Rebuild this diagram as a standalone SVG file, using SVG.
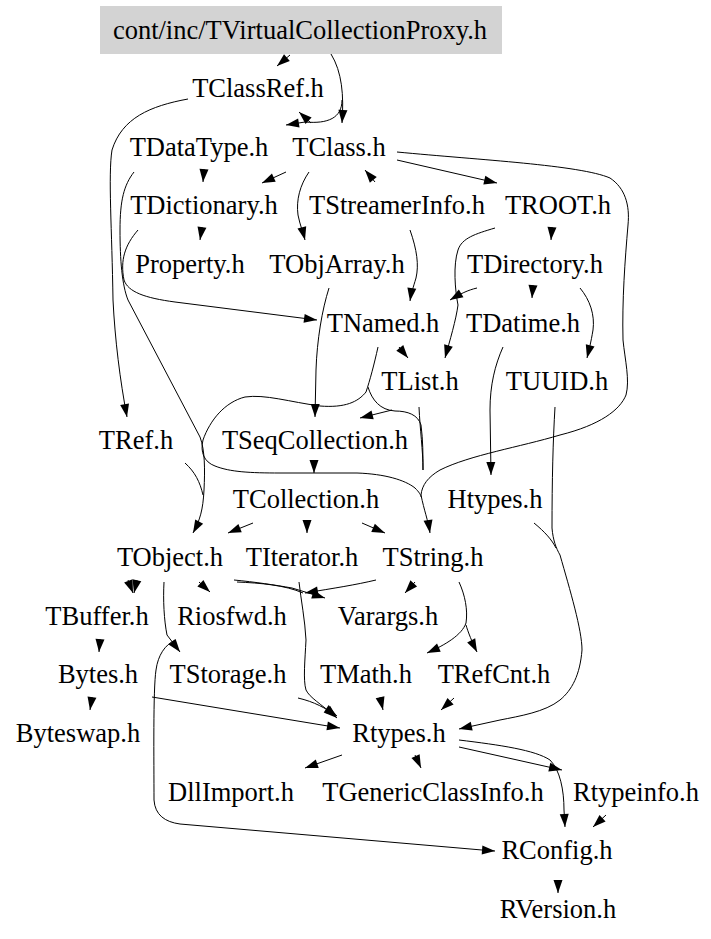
<svg xmlns="http://www.w3.org/2000/svg" width="711" height="939" viewBox="0 0 711 939">
<style>
text{font-family:"Liberation Serif","Times New Roman",serif;font-size:26.5px;fill:#000;text-anchor:middle}
.e{fill:none;stroke:#000;stroke-width:1;marker-end:url(#ah)}
.m{fill:none;stroke:#000;stroke-width:1}
</style>
<defs>
<marker id="ah" markerUnits="userSpaceOnUse" markerWidth="14" markerHeight="10" refX="13" refY="4.5" orient="auto" overflow="visible">
<path d="M0,0 L13,4.5 L0,9 z" fill="#000"/>
</marker>
</defs>
<rect width="711" height="939" fill="#fff"/>
<g id="edges">
<path class="e" d="M290,55 L277,66"/>
<path class="e" d="M331,54 C342,72 344,95 342,123"/>
<path class="e" d="M342,100 C342,118 328,124 305,122 L286,125"/>
<path class="e" d="M311,123 L299,112"/>
<path class="e" d="M188,99 C150,106 122,118 112,150 C108,175 112,230 113,300 C115,340 120,380 127,417"/>
<path class="e" d="M134,172 C124,185 120,200 120,230 C120,260 122,285 128,300 L200,437 C205,450 205,470 204,490 C203,510 200,520 193,533"/>
<path class="m" d="M185,463 C195,472 200,482 203,495"/>
<path class="e" d="M138,230 C125,245 120,260 124,280 C128,292 145,298 175,302 L317,320"/>
<path class="e" d="M202,227 L200,240"/>
<path class="e" d="M204,169 L203,182"/>
<path class="e" d="M286,172 L262,183"/>
<path class="e" d="M309,172 C300,185 296,200 298,215 C300,225 303,232 305,240"/>
<path class="e" d="M375,182 L365,170"/>
<path class="e" d="M397,160 L497,183"/>
<path class="e" d="M397,152 C480,160 580,165 610,178 C625,188 630,205 628,225 C625,260 622,300 623,340 C625,360 630,380 626,395 C620,410 600,425 560,435 C520,447 470,455 440,470 C428,477 422,485 421,495 C424,510 428,520 430,533"/>
<path class="m" d="M378,347 C374,365 370,380 366,392 C358,402 345,408 320,406 C290,402 265,394 245,397 C225,402 210,420 203,440 C200,452 204,462 215,466 C230,472 250,473 280,473 L357,473 C385,474 405,480 415,488 C419,492 421,495 421,497"/>
<path class="m" d="M368,387 C372,400 380,410 395,411 C408,411 418,415 421,425 C423,440 423,455 423,470"/>
<path class="e" d="M392,410 L360,418"/>
<path class="m" d="M419,407 C420,430 423,450 423,470"/>
<path class="e" d="M410,230 C417,250 419,265 416,278 C413,288 411,294 410,301"/>
<path class="e" d="M552,227 L551,240"/>
<path class="e" d="M495,228 C475,234 462,238 458,250 C453,265 455,290 458,305 C456,320 450,340 445,358"/>
<path class="e" d="M477,288 C468,290 460,294 450,300"/>
<path class="e" d="M533,285 L532,298"/>
<path class="e" d="M580,288 C590,300 595,315 593,330 C591,342 589,350 587,358"/>
<path class="e" d="M399,347 L408,358"/>
<path class="e" d="M503,347 C495,365 490,385 490,410 L491,475"/>
<path class="e" d="M555,407 C553,440 552,480 552,528 C553,540 556,548 560,555 C570,590 582,630 582,650 C580,675 572,690 560,700 C545,712 520,716 500,720 L459,729"/>
<path class="m" d="M534,523 C545,532 552,540 556,548"/>
<path class="e" d="M329,288 C322,310 317,340 316,370 L315,417"/>
<path class="e" d="M314,460 L314,473"/>
<path class="e" d="M253,523 L228,533"/>
<path class="e" d="M307,520 L307,533"/>
<path class="e" d="M362,523 L385,533"/>
<path class="e" d="M128,580 L133,593"/>
<path class="e" d="M137,580 L134,593"/>
<path class="e" d="M199,582 L210,592"/>
<path class="e" d="M164,582 C163,600 164,620 167,635 L180,652"/>
<path class="e" d="M175,640 C165,645 158,655 156,670 C153,690 154,760 154,800 C155,815 165,822 180,824 L482,850 L495,851"/>
<path class="e" d="M234,580 C255,582 275,585 292,588 L325,598"/>
<path class="m" d="M237,582 C260,583 285,585 303,593"/>
<path class="e" d="M376,580 C355,585 335,588 305,593"/>
<path class="e" d="M415,582 L405,593"/>
<path class="e" d="M299,582 C301,600 305,620 306,640 C305,660 303,680 306,690 C310,698 320,703 337,718"/>
<path class="e" d="M298,698 C315,702 325,708 337,716"/>
<path class="e" d="M459,582 C465,595 468,610 466,623 C462,635 445,645 427,653"/>
<path class="e" d="M466,625 C468,632 472,642 477,652"/>
<path class="e" d="M152,697 L340,728"/>
<path class="e" d="M100,639 L99,652"/>
<path class="e" d="M92,697 L90,710"/>
<path class="e" d="M380,697 L383,710"/>
<path class="e" d="M454,698 L441,710"/>
<path class="e" d="M342,755 L305,768"/>
<path class="e" d="M415,755 L421,768"/>
<path class="e" d="M459,740 C500,745 535,750 550,760 C560,770 564,790 564,810 L565,827"/>
<path class="e" d="M459,747 L562,770"/>
<path class="e" d="M606,815 L593,827"/>
<path class="e" d="M558,880 L558,893"/>
</g>
<g id="n_root"><rect x="100" y="6" width="402" height="48" fill="#d3d3d3"/><text x="300" y="39">cont/inc/TVirtualCollectionProxy.h</text></g>
<g id="n_TClassRef"><text x="258" y="97">TClassRef.h</text></g>
<g id="n_TDataType"><text x="199" y="156">TDataType.h</text></g>
<g id="n_TClass"><text x="339" y="156">TClass.h</text></g>
<g id="n_TDictionary"><text x="204" y="214">TDictionary.h</text></g>
<g id="n_TStreamerInfo"><text x="397" y="214">TStreamerInfo.h</text></g>
<g id="n_TROOT"><text x="558" y="214">TROOT.h</text></g>
<g id="n_Property"><text x="190" y="273">Property.h</text></g>
<g id="n_TObjArray"><text x="337" y="273">TObjArray.h</text></g>
<g id="n_TDirectory"><text x="535" y="273">TDirectory.h</text></g>
<g id="n_TNamed"><text x="383" y="332">TNamed.h</text></g>
<g id="n_TDatime"><text x="523" y="332">TDatime.h</text></g>
<g id="n_TList"><text x="420" y="390">TList.h</text></g>
<g id="n_TUUID"><text x="557" y="390">TUUID.h</text></g>
<g id="n_TRef"><text x="136" y="449">TRef.h</text></g>
<g id="n_TSeqCollection"><text x="315" y="449">TSeqCollection.h</text></g>
<g id="n_TCollection"><text x="306" y="508">TCollection.h</text></g>
<g id="n_Htypes"><text x="495" y="508">Htypes.h</text></g>
<g id="n_TObject"><text x="170" y="566">TObject.h</text></g>
<g id="n_TIterator"><text x="302" y="566">TIterator.h</text></g>
<g id="n_TString"><text x="433" y="566">TString.h</text></g>
<g id="n_TBuffer"><text x="97" y="625">TBuffer.h</text></g>
<g id="n_Riosfwd"><text x="232" y="625">Riosfwd.h</text></g>
<g id="n_Varargs"><text x="388" y="625">Varargs.h</text></g>
<g id="n_Bytes"><text x="98" y="683">Bytes.h</text></g>
<g id="n_TStorage"><text x="228" y="683">TStorage.h</text></g>
<g id="n_TMath"><text x="366" y="683">TMath.h</text></g>
<g id="n_TRefCnt"><text x="494" y="683">TRefCnt.h</text></g>
<g id="n_Byteswap"><text x="78" y="742">Byteswap.h</text></g>
<g id="n_Rtypes"><text x="399" y="742">Rtypes.h</text></g>
<g id="n_DllImport"><text x="231" y="801">DllImport.h</text></g>
<g id="n_TGenericClassInfo"><text x="433" y="801">TGenericClassInfo.h</text></g>
<g id="n_Rtypeinfo"><text x="636" y="801">Rtypeinfo.h</text></g>
<g id="n_RConfig"><text x="557" y="859">RConfig.h</text></g>
<g id="n_RVersion"><text x="558" y="918">RVersion.h</text></g>
</svg>
